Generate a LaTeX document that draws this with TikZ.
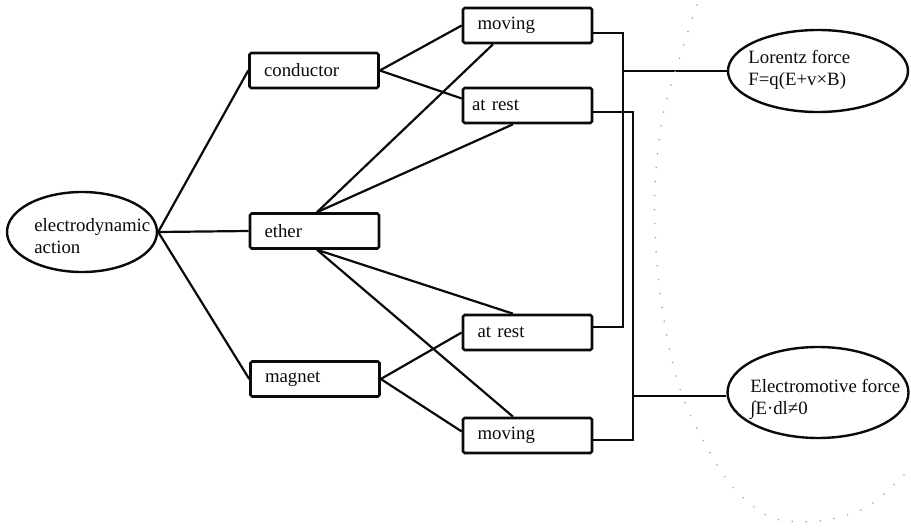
\documentclass[tikz,border=0pt]{standalone}
\usepackage{fontspec}
\setmainfont{Liberation Serif}
\usetikzlibrary{shapes.geometric}
\definecolor{ink}{RGB}{10,10,10}

\begin{document}
\begin{tikzpicture}[x=0.5pt, y=-0.5pt,
    lab/.style={font=\fontsize{9.4}{11}\selectfont, align=left, inner sep=0pt, color=ink},
    part/.style={draw=ink, line width=1.3pt, rounded corners=0.8pt, minimum width=64.5pt,
      minimum height=17.5pt, text width=50pt, inner xsep=7.25pt, align=left,
      font=\fontsize{9.4}{11}\selectfont, text=ink},
    bubble/.style={ellipse, draw=ink, line width=1.2pt, inner sep=0pt},
    wire/.style={line width=1.1pt, color=ink}]

  \useasboundingbox (0,0) rectangle (911,530);

  % ---- the action and its three carriers ------------------------------------
  \node[bubble, minimum width=75pt, minimum height=40pt] (elec) at (82,232) {};
  \node[lab, anchor=west] (elecT) at (34,236) {electrodynamic\\action};

  \foreach \n/\x/\y/\t in {cond/314/70.5/conductor, ether/314.5/231/ether,
                           magn/315/379/magnet} {
    \node[part] (\n) at (\x,\y) {\t};
  }
  \foreach \n in {cond,ether,magn} { \draw[wire] (elec.east) -- (\n.west); }

  % ---- states: moving / at rest ----------------------------------------------
  \node[part] (cmov)  at (527.5,25.5)  {moving};
  \node[part, inner xsep=4.5pt, text width=55.5pt] (crest) at (527.5,105.5) {at rest};
  \node[part] (mrest) at (527.5,332.5) {at rest};
  \node[part] (mmov)  at (527.5,435.5) {moving};

  \draw[wire] (cond.east) -- (cmov.west);
  \draw[wire] (cond.east) -- ([yshift=3.5pt]crest.west);
  \draw[wire] (magn.east) -- (mrest.west);
  \draw[wire] (magn.east) -- ([yshift=2pt]mmov.west);

  % ether fans out to all four states
  \foreach \e/\b/\a/\s in {north/cmov/south/-17.25, north/crest/south/-7.25,
                           south/mrest/north/-7.25, south/mmov/north/-7.25} {
    \draw[wire] ([xshift=1.25pt]ether.\e) -- ([xshift=\s pt]\b.\a);
  }

  % ---- the two forces ----------------------------------------------------------
  \node[bubble, minimum width=90pt, minimum height=41pt] (lor) at (818,71) {};
  \node[lab, anchor=west] (lorT) at (748,70) {Lorentz force\\F=q(E+v×B)};
  \node[bubble, minimum width=90.5pt, minimum height=45.5pt] (emf) at (818,392.5) {};
  \node[lab, anchor=west] (emfT) at (750,399) {Electromotive force\\∫E·dl≠0};

  \coordinate (busA) at (623,0);
  \coordinate (busB) at (633,0);
  \coordinate (cmovR)  at ([yshift=-3.75pt]cmov.east);
  \coordinate (mrestR) at ([yshift=2.75pt]mrest.east);
  \coordinate (crestR) at ([yshift=-3.25pt]crest.east);
  \coordinate (mmovR)  at ([yshift=-2.25pt]mmov.east);

  \draw[wire] (cmovR) -| (busA |- mrestR) -- (mrestR);
  \draw[wire] (lor.west) -- (lor.west -| busA);
  \draw[wire] (crestR) -| (busB |- mmovR) -- (mmovR);
  \draw[wire] ([yshift=-1.75pt]emf.west) -- ([yshift=-1.75pt]emf.west -| busB);

  % faint dotted arc round the forces
  \draw[gray!70, line width=0.9pt, line cap=round, dash pattern=on 0.01pt off 7pt]
    plot[smooth] coordinates {(697,5) (683,47) (663,115) (655,185) (656,250)
      (662,307) (672,360) (688,410) (727,480) (770,517) (820,521) (867,507) (907,472)};
\end{tikzpicture}
\end{document}
